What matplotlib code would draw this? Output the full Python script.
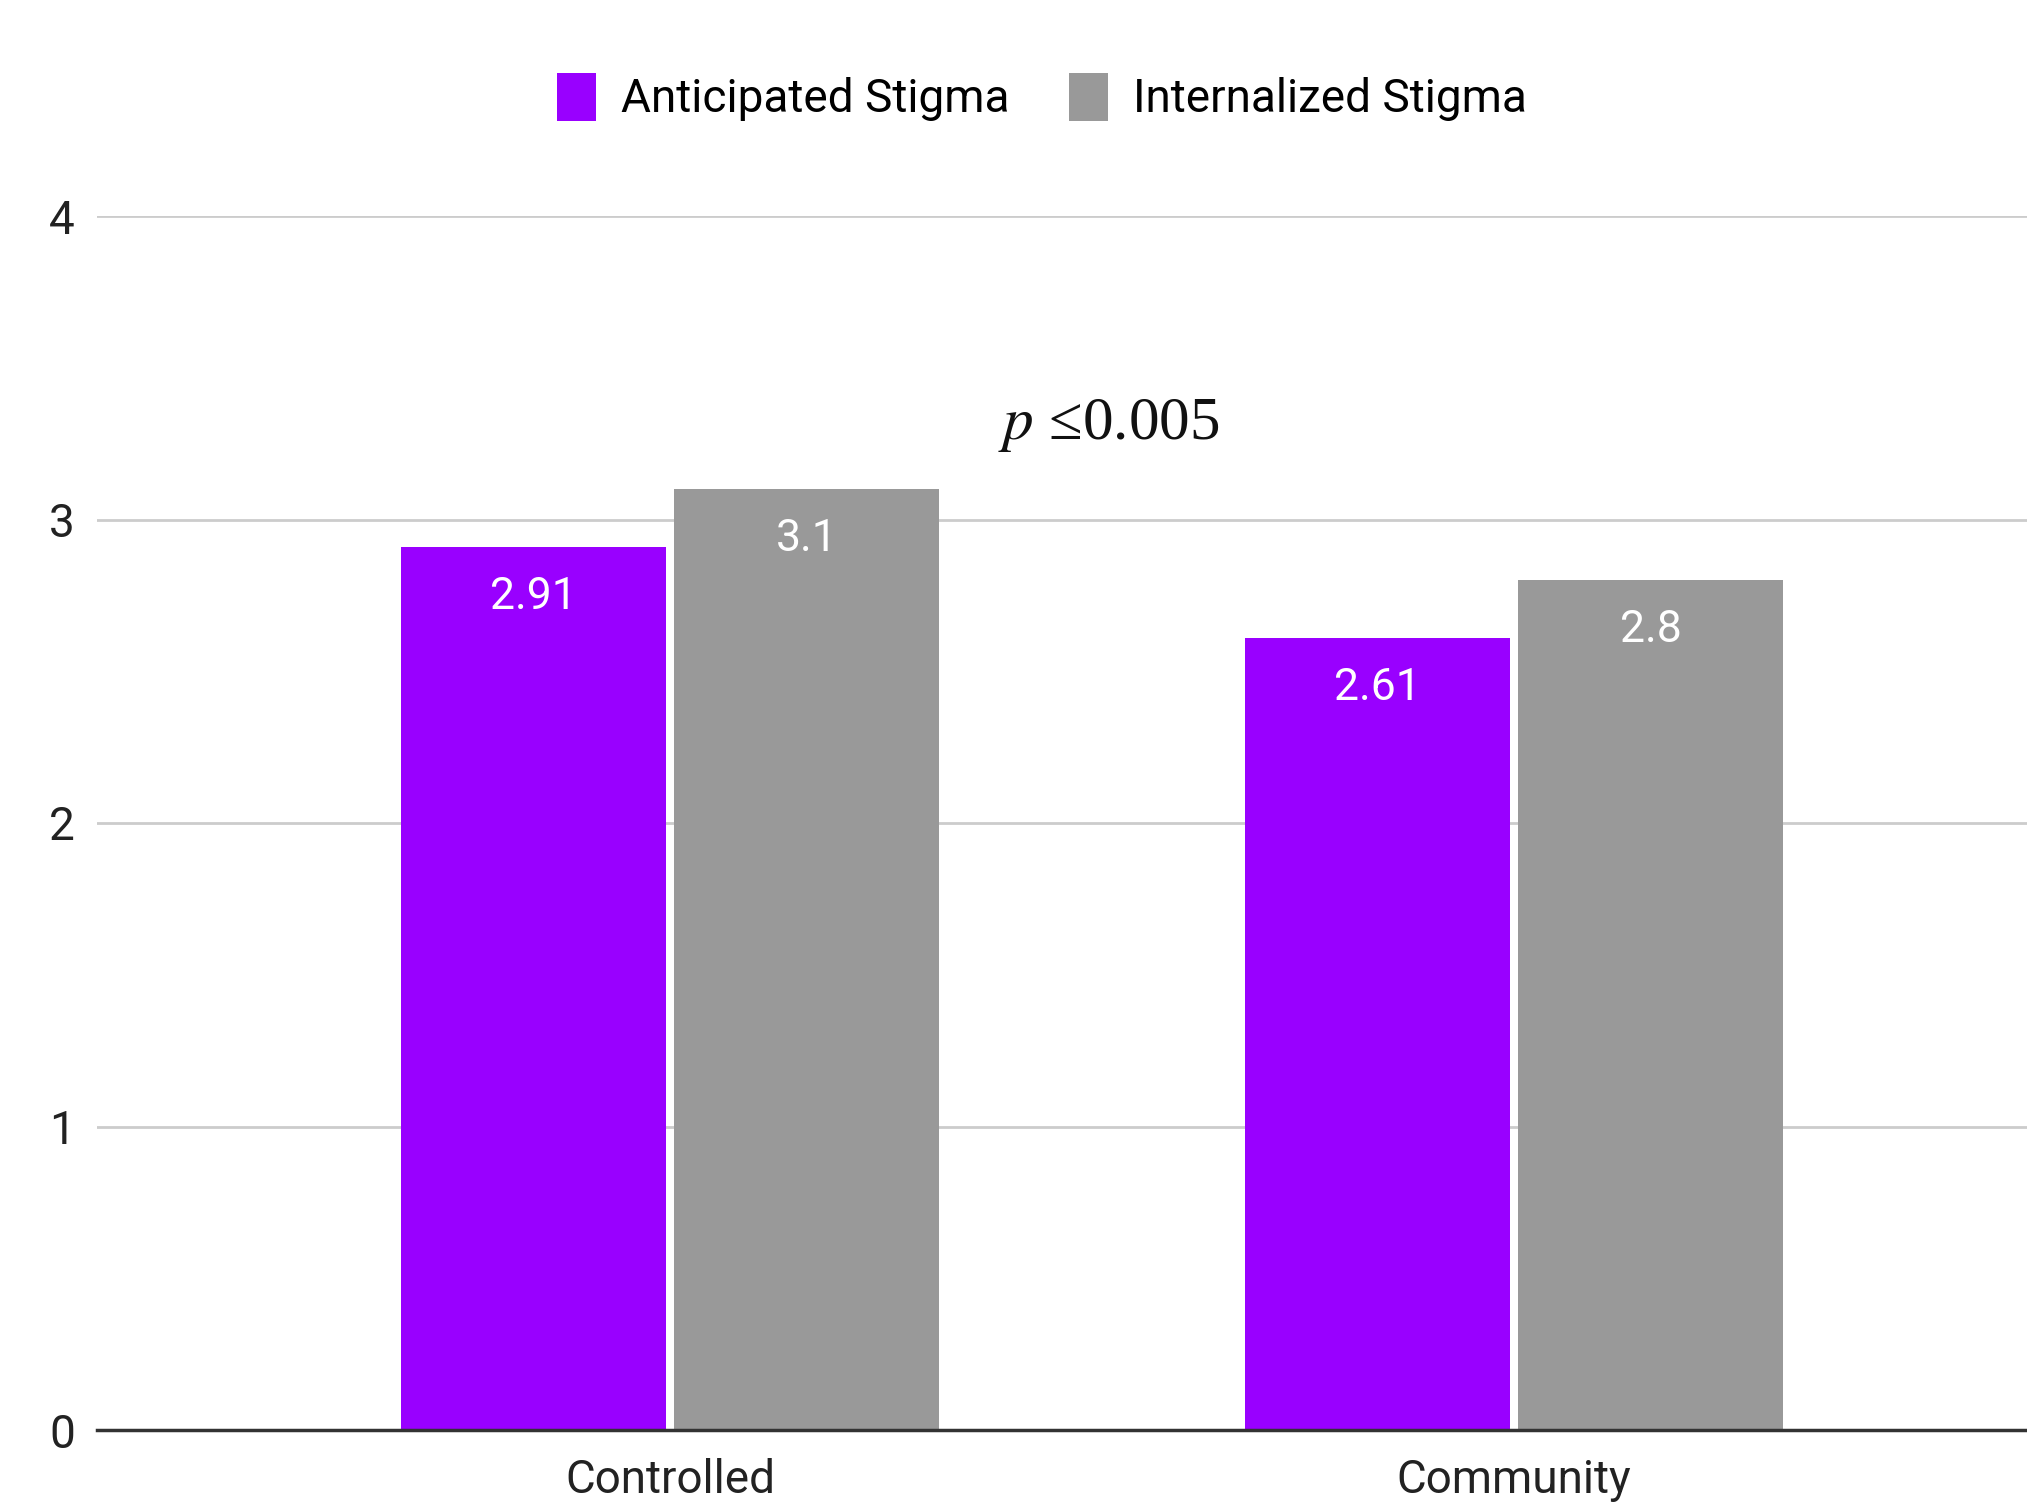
import matplotlib.pyplot as plt
import numpy as np

categories = ['Controlled', 'Community']
series_names = ['Anticipated Stigma', 'Internalized Stigma']
anticipated = [2.91, 2.61]
internalized = [3.1, 2.8]
y_ticks = [0, 1, 2, 3, 4]
p_label = r'$p$ ≤0.005'

PURPLE = '#9900ff'
GRAY = '#999999'

plt.rcParams['font.family'] = ['Roboto', 'DejaVu Sans']

fig = plt.figure(figsize=(20.27, 15.02), dpi=100)
ax = fig.add_axes([97 / 2027, 1 - 1430 / 1502, 1 - 97 / 2027, (1430 - 216) / 1502])

x = np.arange(len(categories))
w = 0.314
gap = 0.005
b1 = ax.bar(x - w / 2 - gap, anticipated, w, color=PURPLE, label=series_names[0], zorder=3)
b2 = ax.bar(x + w / 2 + gap, internalized, w, color=GRAY, label=series_names[1], zorder=3)

# value labels sit just inside the top of each bar
for bars, vals in ((b1, anticipated), (b2, internalized)):
    for rect, v in zip(bars, vals):
        ax.annotate(f'{v:g}', (rect.get_x() + rect.get_width() / 2, v),
                    xytext=(0, -36), textcoords='offset points',
                    ha='center', va='center', color='white', fontsize=32, zorder=4)

ax.set_xlim(-0.679, 1.608)
ax.set_ylim(0, 4)
ax.set_yticks(y_ticks)
ax.set_xticks(x)
ax.set_xticklabels(categories)
ax.tick_params(axis='both', length=0, labelsize=33, colors='#222222')
ax.tick_params(axis='y', pad=16)
ax.tick_params(axis='x', pad=20)
ax.grid(axis='y', color='#cccccc', linewidth=2, zorder=0)
for s in ('top', 'right', 'left'):
    ax.spines[s].set_visible(False)
ax.spines['bottom'].set_color('#333333')
ax.spines['bottom'].set_linewidth(2.5)
ax.spines['bottom'].set_zorder(5)

ax.text(0.52, 3.31, p_label, ha='center', va='center', fontsize=44,
        family='Liberation Serif', math_fontfamily='stix', color='#111111')

fig.legend(loc='center', bbox_to_anchor=(1042 / 2027, 1 - 97 / 1502), ncol=2,
           frameon=False, fontsize=33, handlelength=0.85, handleheight=1.25,
           columnspacing=1.3, handletextpad=0.55)

fig.savefig('out.png', dpi=100, facecolor='white')
